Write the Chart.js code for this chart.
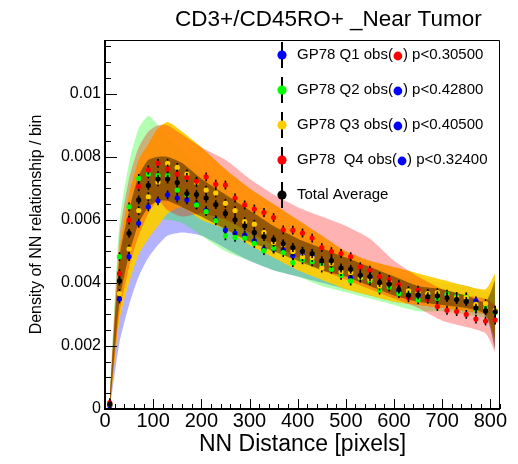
<!DOCTYPE html>
<html>
<head>
<meta charset="utf-8">
<script src="https://cdn.jsdelivr.net/npm/chart.js@4.4.1/dist/chart.umd.min.js"></script>
<style>
  body { margin: 0; background: #fff; }
  canvas { display: block; }
</style>
</head>
<body>
<canvas id="nnChart" width="518" height="464"></canvas>
<script>
//Bin centres [pixels]
const binX = [10, 30, 50, 70, 90, 110, 130, 150, 170, 190, 210, 230, 250, 270, 290, 310, 330, 350, 370, 390,
    410, 430, 450, 470, 490, 510, 530, 550, 570, 590, 610, 630, 650, 670, 690, 710, 730, 750, 770, 790, 810];

//Observed densities per quartile
const q1Obs = [0.00010, 0.00349, 0.00483, 0.00589, 0.00641, 0.00660, 0.00679, 0.00669, 0.00663, 0.00650,
    0.00630, 0.00600, 0.00567, 0.00557, 0.00551, 0.00533, 0.00507, 0.00507, 0.00505, 0.00486,
    0.00486, 0.00483, 0.00459, 0.00470, 0.00438, 0.00417, 0.00422, 0.00417, 0.00387, 0.00398,
    0.00375, 0.00369, 0.00360, 0.00361, 0.00353, 0.00359, 0.00348, 0.00343, 0.00343, 0.00327, 0.00311];
const q2Obs = [0.00015, 0.00483, 0.00641, 0.00731, 0.00745, 0.00740, 0.00740, 0.00694, 0.00679, 0.00647,
    0.00626, 0.00597, 0.00549, 0.00544, 0.00542, 0.00525, 0.00502, 0.00510, 0.00496, 0.00464,
    0.00473, 0.00467, 0.00457, 0.00443, 0.00424, 0.00406, 0.00415, 0.00406, 0.00377, 0.00387,
    0.00366, 0.00370, 0.00346, 0.00364, 0.00351, 0.00364, 0.00357, 0.00356, 0.00317, 0.00322, 0.00306];
const q3Obs = [0.00015, 0.00366, 0.00507, 0.00629, 0.00673, 0.00720, 0.00779, 0.00766, 0.00745, 0.00718,
    0.00694, 0.00685, 0.00652, 0.00629, 0.00594, 0.00586, 0.00560, 0.00528, 0.00521, 0.00499,
    0.00483, 0.00480, 0.00447, 0.00461, 0.00436, 0.00433, 0.00417, 0.00412, 0.00390, 0.00406,
    0.00383, 0.00375, 0.00370, 0.00366, 0.00369, 0.00356, 0.00353, 0.00353, 0.00332, 0.00334, 0.00313];
const q4Obs = [0.00020, 0.00429, 0.00599, 0.00705, 0.00758, 0.00779, 0.00761, 0.00745, 0.00734, 0.00722,
    0.00736, 0.00713, 0.00710, 0.00669, 0.00647, 0.00634, 0.00623, 0.00607, 0.00568, 0.00567,
    0.00558, 0.00542, 0.00512, 0.00499, 0.00493, 0.00483, 0.00451, 0.00440, 0.00420, 0.00410,
    0.00394, 0.00353, 0.00377, 0.00348, 0.00325, 0.00313, 0.00309, 0.00300, 0.00285, 0.00279, 0.00282];
const totalAvg = [0.00015, 0.00406, 0.00557, 0.00663, 0.00709, 0.00729, 0.00729, 0.00718, 0.00683, 0.00680,
    0.00669, 0.00648, 0.00620, 0.00600, 0.00581, 0.00560, 0.00547, 0.00537, 0.00524, 0.00512,
    0.00500, 0.00493, 0.00470, 0.00470, 0.00447, 0.00443, 0.00424, 0.00420, 0.00401, 0.00396,
    0.00380, 0.00361, 0.00362, 0.00356, 0.00359, 0.00353, 0.00348, 0.00341, 0.00320, 0.00311, 0.00308];
const obsErr = 0.00014;

//Bands (read at these distances)
const bandX = [10, 30, 50, 70, 90, 110, 130, 160, 200, 250, 300, 350, 400, 450, 500, 550, 600, 650, 700, 750, 790, 810];
const q1Lo = [0.0000, 0.0021, 0.0033, 0.0042, 0.0048, 0.0052, 0.0055, 0.0056, 0.0055, 0.0051, 0.0047,
    0.0044, 0.0042, 0.0040, 0.0038, 0.0036, 0.0034, 0.0033, 0.0032, 0.0031, 0.0030, 0.0029];
const q1Hi = [0.0003, 0.0047, 0.0062, 0.0072, 0.0076, 0.0078, 0.0079, 0.0078, 0.0074, 0.0067, 0.0062,
    0.0057, 0.0054, 0.0051, 0.0048, 0.0045, 0.0042, 0.0041, 0.0040, 0.0039, 0.0037, 0.0036];
const q2Lo = [0.0000, 0.0035, 0.0048, 0.0055, 0.0058, 0.0060, 0.0060, 0.0059, 0.0055, 0.0050, 0.0047,
    0.0044, 0.0042, 0.0039, 0.0037, 0.0035, 0.0033, 0.0031, 0.0031, 0.0030, 0.0029, 0.0028];
const q2Hi = [0.0005, 0.0059, 0.0078, 0.0089, 0.0093, 0.0090, 0.0086, 0.0082, 0.0076, 0.0070, 0.0065,
    0.0060, 0.0056, 0.0052, 0.0049, 0.0046, 0.0043, 0.0041, 0.0040, 0.0039, 0.0037, 0.0036];
const q3Lo = [0.0000, 0.0028, 0.0040, 0.0049, 0.0054, 0.0058, 0.0062, 0.0064, 0.0060, 0.0057, 0.0052,
    0.0048, 0.0044, 0.0041, 0.0038, 0.0036, 0.0034, 0.0033, 0.0032, 0.0031, 0.0030, 0.0022];
const q3Hi = [0.0004, 0.0050, 0.0068, 0.0079, 0.0084, 0.0089, 0.0091, 0.0088, 0.0083, 0.0076, 0.0070,
    0.0065, 0.0060, 0.0055, 0.0050, 0.0047, 0.0045, 0.0043, 0.0041, 0.0039, 0.0038, 0.0043];
const q4Lo = [0.0000, 0.0030, 0.0045, 0.0055, 0.0062, 0.0066, 0.0063, 0.0061, 0.0062, 0.0060, 0.0056,
    0.0052, 0.0048, 0.0044, 0.0041, 0.0038, 0.0035, 0.0032, 0.0028, 0.0026, 0.0024, 0.0018];
const q4Hi = [0.0004, 0.0055, 0.0073, 0.0083, 0.0088, 0.0090, 0.0090, 0.0087, 0.0083, 0.0079, 0.0073,
    0.0068, 0.0064, 0.0061, 0.0058, 0.0054, 0.0047, 0.0042, 0.0038, 0.0036, 0.0035, 0.0033];
const totLo = [0.0000, 0.0034, 0.0049, 0.0059, 0.0064, 0.0066, 0.0066, 0.0064, 0.0061, 0.0057, 0.0053,
    0.0050, 0.0047, 0.0044, 0.0042, 0.0039, 0.0036, 0.0034, 0.0033, 0.0032, 0.0030, 0.0019];
const totHi = [0.0004, 0.0048, 0.0063, 0.0074, 0.0079, 0.0080, 0.0080, 0.0078, 0.0073, 0.0068, 0.0063,
    0.0058, 0.0054, 0.0051, 0.0048, 0.0045, 0.0042, 0.0039, 0.0038, 0.0036, 0.0034, 0.0041];

//Axis ticks
const xTicks = [0, 100, 200, 300, 400, 500, 600, 700, 800];
const xTickLabels = ['0', '100', '200', '300', '400', '500', '600', '700', '800'];
const yTicks = [0, 0.002, 0.004, 0.006, 0.008, 0.01];
const yTickLabels = ['0', '0.002', '0.004', '0.006', '0.008', '0.01'];

//Legend
const legendNames = ['GP78 Q1 obs(', 'GP78 Q2 obs(', 'GP78 Q3 obs(', 'GP78  Q4 obs(', 'Total Average'];
const legendP = [') p<0.30500', ') p<0.42800', ') p<0.40500', ') p<0.32400', ''];
const legendDot = ['#ff0000', '#0000ff', '#0000ff', '#0000ff', null];

const cBlue = '#0000ff';
const cGreen = '#00ff00';
const cGold = '#ffcc00';
const cRed = '#ff0000';
const cBlack = '#000000';

const FONT = '"Liberation Sans", Arial, sans-serif';
Chart.defaults.font.family = FONT;
Chart.defaults.color = '#000';

function pts(xs, ys) {
    return xs.map((x, i) => ({ x: x, y: ys[i] }));
}

function obsSet(ys, color, order) {
    return {
        data: pts(binX, ys),
        showLine: false,
        pointRadius: 2.6,
        pointBorderWidth: 0,
        pointBackgroundColor: color,
        pointBorderColor: color,
        errBar: obsErr,
        order: order
    };
}

function bandSet(hi, lo, fillColor, order) {
    const common = {
        borderColor: 'rgba(0,0,0,0)',
        borderWidth: 0,
        pointRadius: 0,
        tension: 0.2,
        order: order
    };
    return [
        Object.assign({ data: pts(bandX, hi), fill: '+1', backgroundColor: fillColor }, common),
        Object.assign({ data: pts(bandX, lo), fill: false }, common)
    ];
}

//Error bars under each marker
const errBars = {
    id: 'errBars',
    beforeDatasetDraw(chart, args) {
        const ds = chart.data.datasets[args.index];
        if (!ds.errBar) return;
        const ctx = chart.ctx;
        const y = chart.scales.y;
        ctx.save();
        ctx.strokeStyle = '#000';
        ctx.lineWidth = 1.6;
        args.meta.data.forEach((pt, i) => {
            const v = ds.data[i].y;
            ctx.beginPath();
            ctx.moveTo(pt.x, y.getPixelForValue(v + ds.errBar));
            ctx.lineTo(pt.x, y.getPixelForValue(Math.max(0, v - ds.errBar)));
            ctx.stroke();
        });
        ctx.restore();
    }
};

//Frame, inward ticks, title, legend
const rootLook = {
    id: 'rootLook',
    afterDraw(chart) {
        const { ctx, chartArea: a, scales: { x, y } } = chart;
        ctx.save();
        ctx.strokeStyle = '#000';

        ctx.lineWidth = 1;
        ctx.beginPath();
        ctx.moveTo(a.left, a.top + 0.5);
        ctx.lineTo(a.right - 0.5, a.top + 0.5);
        ctx.lineTo(a.right - 0.5, a.bottom);
        ctx.stroke();

        ctx.lineWidth = 2;
        ctx.beginPath();
        ctx.moveTo(a.left, a.top);
        ctx.lineTo(a.left, a.bottom);
        ctx.lineTo(a.right, a.bottom);
        ctx.stroke();

        ctx.lineWidth = 1;
        ctx.beginPath();
        for (let k = 0; k * 0.0005 <= y.max + 1e-9; k++) {
            const py = Math.round(y.getPixelForValue(k * 0.0005)) + 0.5;
            const len = k % 4 === 0 ? 12 : 6;
            ctx.moveTo(a.left, py);
            ctx.lineTo(a.left + len, py);
        }
        for (let k = 0; k * 20 <= x.max; k++) {
            const px = Math.round(x.getPixelForValue(k * 20)) + 0.5;
            const len = k % 5 === 0 ? 10 : 5;
            ctx.moveTo(px, a.bottom);
            ctx.lineTo(px, a.bottom - len);
        }
        ctx.stroke();

        //title
        ctx.fillStyle = '#000';
        ctx.font = '22.5px ' + FONT;
        ctx.textAlign = 'left';
        ctx.textBaseline = 'alphabetic';
        ctx.fillText('CD3+/CD45RO+ _Near Tumor', 175, 26);

        //legend
        const colors = [cBlue, cGreen, cGold, cRed, cBlack];
        ctx.font = '15px ' + FONT;
        ctx.textBaseline = 'middle';
        legendNames.forEach((name, i) => {
            const yc = 55 + i * 35;
            ctx.lineWidth = 2;
            ctx.beginPath();
            ctx.moveTo(282, Math.max(a.top, yc - 13));
            ctx.lineTo(282, yc + 13);
            ctx.stroke();
            ctx.fillStyle = colors[i];
            ctx.beginPath();
            ctx.arc(282, yc, 4.6, 0, Math.PI * 2);
            ctx.fill();
            ctx.fillStyle = '#000';
            ctx.fillText(name, 297, yc);
            if (legendDot[i]) {
                const w = ctx.measureText(name).width;
                ctx.fillStyle = legendDot[i];
                ctx.beginPath();
                ctx.arc(297 + w + 5, yc + 1, 4.4, 0, Math.PI * 2);
                ctx.fill();
                ctx.fillStyle = '#000';
                ctx.fillText(legendP[i], 297 + w + 10, yc);
            }
        });
        ctx.restore();
    }
};

const datasets = [
    obsSet(totalAvg, cBlack, 1),
    obsSet(q4Obs, cRed, 2),
    obsSet(q3Obs, cGold, 3),
    obsSet(q2Obs, cGreen, 4),
    obsSet(q1Obs, cBlue, 5),
    ...bandSet(totHi, totLo, 'rgba(0,0,0,0.4)', 10),
    ...bandSet(q4Hi, q4Lo, 'rgba(255,0,0,0.3)', 11),
    ...bandSet(q3Hi, q3Lo, 'rgba(255,204,0,0.92)', 12),
    ...bandSet(q2Hi, q2Lo, 'rgba(0,255,0,0.3)', 13),
    ...bandSet(q1Hi, q1Lo, 'rgba(0,0,255,0.3)', 14)
];

const nnChart = new Chart(document.getElementById('nnChart'), {
    type: 'line',
    data: { datasets: datasets },
    options: {
        responsive: false,
        devicePixelRatio: 1,
        animation: false,
        layout: { padding: { left: 20, right: 18, top: 40, bottom: 0 } },
        plugins: {
            legend: { display: false },
            tooltip: { enabled: false }
        },
        scales: {
            x: {
                type: 'linear',
                min: 0,
                max: 820,
                afterBuildTicks: s => { s.ticks = xTicks.map(v => ({ value: v })); },
                afterFit: s => { s.height = 55; },
                grid: { display: false, drawTicks: false },
                border: { display: false },
                ticks: {
                    autoSkip: false,
                    maxRotation: 0,
                    padding: 0,
                    font: { size: 20 },
                    callback: (v, i) => xTickLabels[i]
                },
                title: {
                    display: true,
                    text: 'NN Distance [pixels]',
                    font: { size: 23 },
                    padding: { top: 0, bottom: 6 }
                }
            },
            y: {
                type: 'linear',
                min: 0,
                max: 0.0117,
                afterBuildTicks: s => { s.ticks = yTicks.map(v => ({ value: v })); },
                afterFit: s => { s.width = 85; },
                grid: { display: false, drawTicks: false },
                border: { display: false },
                ticks: {
                    autoSkip: false,
                    padding: 4,
                    font: { size: 16 },
                    callback: (v, i) => yTickLabels[i]
                },
                title: {
                    display: true,
                    text: 'Density of NN relationship / bin',
                    font: { size: 16 },
                    padding: { top: 7, bottom: 0 }
                }
            }
        }
    },
    plugins: [errBars, rootLook]
});
</script>
</body>
</html>
